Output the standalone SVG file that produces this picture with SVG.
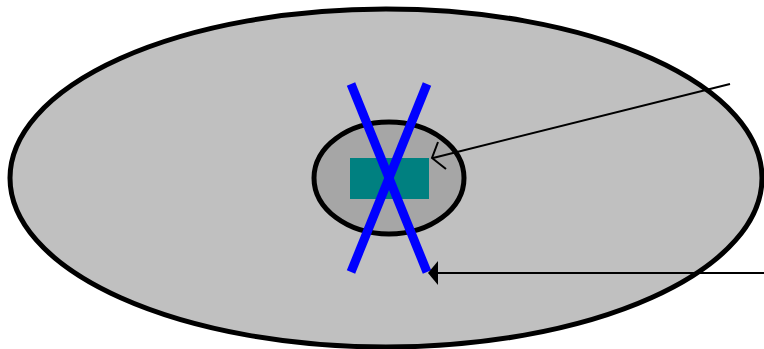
<svg xmlns="http://www.w3.org/2000/svg" width="764" height="349" viewBox="0 0 764 349">
<style>
.ell{stroke:#000;stroke-width:5}
.x{stroke:#0000ff;stroke-width:9;stroke-linecap:butt}
.conn{stroke:#000;stroke-width:2;fill:none}
</style>
<rect width="764" height="349" fill="#fff"/>
<g id="outer"><ellipse class="ell" cx="386" cy="178" rx="376" ry="169" fill="#c0c0c0"/></g>
<g id="inner"><ellipse class="ell" cx="389" cy="178" rx="75" ry="56" fill="#a6a6a6"/></g>
<g id="chip"><rect x="350" y="158" width="79" height="41" fill="#008080"/></g>
<g id="cross">
<line class="x" x1="351" y1="84" x2="427" y2="272"/>
<line class="x" x1="427" y1="84" x2="351" y2="272"/>
</g>
<g id="connectors">
<line class="conn" x1="730" y1="84" x2="433" y2="158"/>
<polyline class="conn" points="438,142 432,158 446,169"/>
<line class="conn" x1="764" y1="273" x2="436" y2="273"/>
<polygon points="428,273 438,261 438,285" fill="#000"/>
</g>
</svg>
